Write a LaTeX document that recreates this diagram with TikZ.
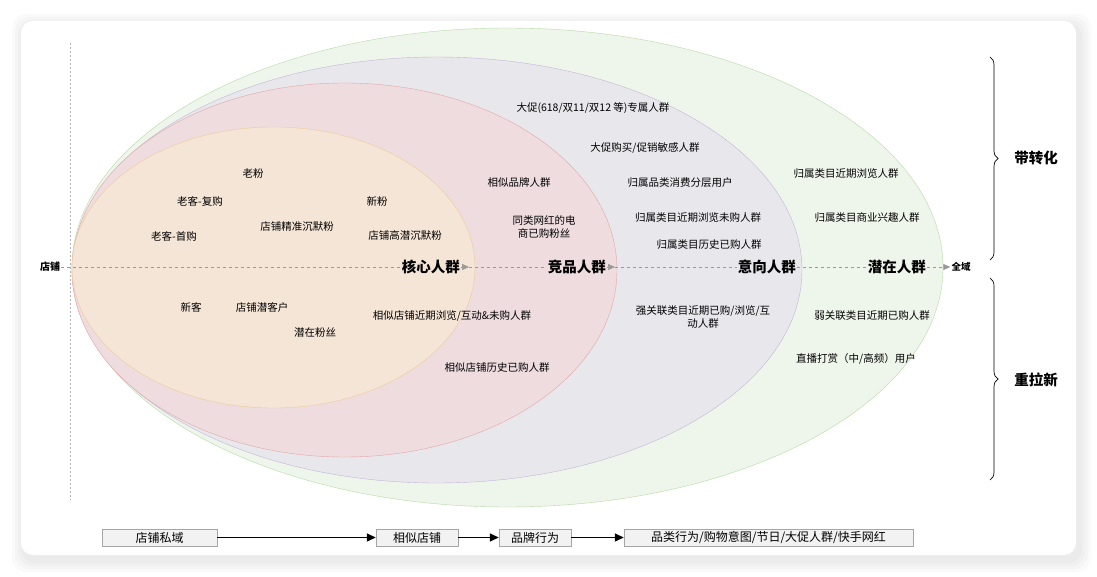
\documentclass[tikz,border=0pt]{standalone}
\usepackage{fontspec}
\setmainfont{Noto Sans CJK SC}
\usetikzlibrary{arrows.meta,decorations.pathreplacing}

\definecolor{allfill}{HTML}{EEF5EB}
\definecolor{alldraw}{HTML}{B8DBA8}
\definecolor{intentfill}{HTML}{E8E7EC}
\definecolor{intentdraw}{HTML}{C4B6D8}
\definecolor{compfill}{HTML}{EEDCDF}
\definecolor{compdraw}{HTML}{E2A8A8}
\definecolor{corefill}{HTML}{F5E5D6}
\definecolor{coredraw}{HTML}{EDCC98}

\tikzset{
  lbl/.style={font=\fontsize{10.5}{13}\selectfont, inner sep=1pt, align=center},
  tier/.style={font=\fontsize{14.5}{16}\selectfont\bfseries, inner sep=1pt},
  ends/.style={font=\fontsize{10}{11}\selectfont\bfseries, inner sep=1pt},
  side/.style={font=\fontsize{14.5}{16}\selectfont\bfseries},
  axis/.style={dashed, draw=gray!80, line width=0.7pt},
  flow/.style={axis, -{Triangle[length=7pt,width=6pt,fill=gray!80]}},
  stagebox/.style={draw=gray!70, fill=gray!10, inner sep=0pt, minimum height=17pt,
    font=\fontsize{12}{14}\selectfont},
  stagearrow/.style={line width=1.4pt, -{Triangle[length=9pt,width=8pt]}},
  bracket/.style={decorate, decoration={brace, amplitude=8pt}, line width=0.7pt},
}

\begin{document}
\begin{tikzpicture}[x=1pt, y=-1pt]
\useasboundingbox (0,0) rectangle (1097,577);
\fill[white] (0,0) rectangle (1097,577);
% card with soft shadow
\foreach \s in {12,9,6,3}
  \fill[black, opacity=0.018, rounded corners=14pt]
    (21-\s+3,21-\s+5) rectangle (1076+\s+3,555+\s+5);
\fill[white, rounded corners=12pt] (21,21) rectangle (1076,555);

% crowd rings
\draw[alldraw, fill=allfill] (507.5,267.5) ellipse [x radius=435.5, y radius=239.5];
\draw[intentdraw, fill=intentfill] (437,270) ellipse [x radius=365, y radius=213];
\draw[compdraw, fill=compfill] (344.5,270) ellipse [x radius=272.5, y radius=187];
\draw[coredraw, fill=corefill] (273.5,267.5) ellipse [x radius=201.5, y radius=140.5];

% axis
\draw[dashed, gray!60, line width=0.6pt, dash pattern=on 2pt off 2pt] (70,43) -- (70,500);
\node[ends] (shop) at (50,267) {店铺};
\node[tier, anchor=east] (core) at (461,267) {核心人群};
\node[tier, anchor=east] (comp) at (607,267) {竞品人群};
\node[tier, anchor=east] (intent) at (797,267) {意向人群};
\node[tier, anchor=east] (pot) at (927,267) {潜在人群};
\node[ends, font=\fontsize{9.5}{11}\selectfont\bfseries] (all) at (961,267) {全域};
\coordinate (coretip) at (469,267);
\coordinate (comptip) at (615,267);
\draw[axis] (shop) -- (core);
\draw[flow] (core) -- (coretip);
\draw[axis] (coretip) -- (comp);
\draw[flow] (comp) -- (comptip);
\draw[axis] (comptip) -- (intent);
\draw[axis] (intent) -- (pot);
\draw[flow] (pot) -- (all);

% core
\node[lbl] (c1) at (253,174) {老粉};
\node[lbl] (c2) at (200,201) {老客-复购};
\node[lbl] (c3) at (377,201) {新粉};
\node[lbl] (c4) at (297,227) {店铺精准沉默粉};
\node[lbl] (c5) at (174,236) {老客-首购};
\node[lbl] (c6) at (405,236) {店铺高潜沉默粉};
\node[lbl] (c7) at (191,307) {新客};
\node[lbl] (c8) at (262,307) {店铺潜客户};
\node[lbl] (c9) at (315,333) {潜在粉丝};

% competing
\node[lbl] (p1) at (519,183) {相似品牌人群};
\node[lbl] (p2) at (544,227) {同类网红的电\\商已购粉丝};
\node[lbl] (p3) at (452,316) {相似店铺近期浏览/互动\&未购人群};
\node[lbl] (p4) at (497,368) {相似店铺历史已购人群};

% intent
\node[lbl] (i1) at (593,108) {大促(618/双11/双12 等)专属人群};
\node[lbl] (i2) at (645,148) {大促购买/促销敏感人群};
\node[lbl] (i3) at (680,183) {归属品类消费分层用户};
\node[lbl] (i4) at (698,218) {归属类目近期浏览未购人群};
\node[lbl] (i5) at (709,245) {归属类目历史已购人群};
\node[lbl] (i6) at (703,317) {强关联类目近期已购/浏览/互\\动人群};

% potential
\node[lbl] (o1) at (846,174) {归属类目近期浏览人群};
\node[lbl] (o2) at (867,218) {归属类目商业兴趣人群};
\node[lbl] (o3) at (872,316) {弱关联类目近期已购人群};
\node[lbl] (o4) at (856,359) {直播打赏（中/高频）用户};

% braces
\coordinate (b1t) at (990,57);
\coordinate (b1b) at (990,260);
\coordinate (b2t) at (990,278);
\coordinate (b2b) at (990,480);
\draw[bracket] (b1t) -- (b1b);
\draw[bracket] (b2t) -- (b2b);
\node[side] (conv) at (1036,158) {带转化};
\node[side] (pull) at (1036,380) {重拉新};

% stages
\node[stagebox, minimum width=115pt] (s1) at (159.5,537.5) {店铺私域};
\node[stagebox, minimum width=82pt] (s2) at (417,537.5) {相似店铺};
\node[stagebox, minimum width=72pt] (s3) at (535,537.5) {品牌行为};
\node[stagebox, minimum width=289pt] (s4) at (768.5,537.5) {品类行为/购物意图/节日/大促人群/快手网红};
\draw[stagearrow] (s1) -- (s2);
\draw[stagearrow] (s2) -- (s3);
\draw[stagearrow] (s3) -- (s4);

\end{tikzpicture}
\end{document}
